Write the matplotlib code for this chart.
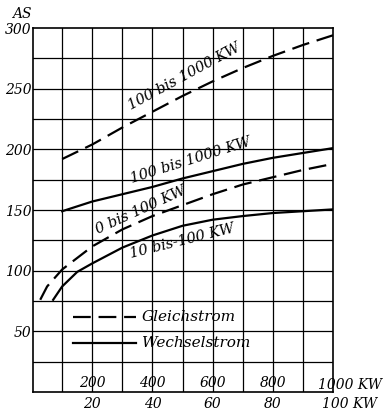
import matplotlib
matplotlib.use("Agg")
import matplotlib.pyplot as plt
import matplotlib.transforms as mtransforms

# Data (AS vs. KW)
# Gleichstrom, 100 bis 1000 KW (upper scale 0..1000 KW)
g_hi_x = [100, 200, 300, 400, 500, 600, 700, 800, 900, 1000]
g_hi_y = [192, 204, 218, 231, 244, 256, 267, 277, 286, 294]
# Wechselstrom, 100 bis 1000 KW (upper scale)
w_hi_x = [100, 200, 300, 400, 500, 600, 700, 800, 900, 1000]
w_hi_y = [149, 157, 163, 169, 176, 182, 188, 193, 197, 201]
# Gleichstrom, 0 bis 100 KW (lower scale 0..100 KW)
g_lo_x = [2.7, 5, 10, 20, 30, 40, 50, 60, 70, 80, 90, 100]
g_lo_y = [76, 87, 101, 120, 134, 145, 154, 163, 171, 177, 183, 188]
# Wechselstrom, 10 bis 100 KW (lower scale)
w_lo_x = [7, 10, 15, 20, 30, 40, 50, 60, 70, 80, 90, 100]
w_lo_y = [76, 87, 99, 106, 119, 129, 137, 142, 145, 147.5, 149, 150.5]

upper_ticks = [200, 400, 600, 800, 1000]
upper_labels = ["200", "400", "600", "800", "1000 KW"]
lower_ticks = [20, 40, 60, 80, 100]
lower_labels = ["20", "40", "60", "80", "100 KW"]
y_ticks = [50, 100, 150, 200, 250, 300]

FONT = dict(family="DejaVu Serif", style="italic")

fig = plt.figure(figsize=(3.9, 4.12), dpi=100)
ax = fig.add_axes([33/390, 1-392/412, 300/390, 364/412])
ax.set_xlim(3, 1000)
ax.set_ylim(0, 300)

# grid
for gx in range(100, 1000, 100):
    ax.axvline(gx, color="black", lw=0.9, zorder=1)
for gy in range(25, 300, 25):
    ax.axhline(gy, color="black", lw=0.9, zorder=1)
for s in ax.spines.values():
    s.set_linewidth(1.2)

ax.set_xticks([])
ax.set_yticks(y_ticks)
ax.set_yticklabels([str(v) for v in y_ticks], fontsize=10, **FONT)
ax.tick_params(axis="y", length=0, pad=1)

dash = (0, (8, 3.5))
ax.plot(g_hi_x, g_hi_y, color="black", lw=1.6, linestyle=dash, zorder=3)
ax.plot(w_hi_x, w_hi_y, color="black", lw=1.6, zorder=3)

ax2 = ax.twiny()
ax2.set_xlim(0.3, 100)
ax2.axis("off")
ax2.plot(g_lo_x, g_lo_y, color="black", lw=1.6, linestyle=dash, zorder=3)
ax2.plot(w_lo_x, w_lo_y, color="black", lw=1.6, zorder=3)

# x tick labels
trans_u = mtransforms.blended_transform_factory(ax.transData, ax.transAxes)
for xv, lab in zip(upper_ticks, upper_labels):
    if "KW" in lab:
        ax.text(xv - 50, -0.0, lab, transform=trans_u, ha="left", va="bottom",
                fontsize=10, clip_on=False, **FONT)
    else:
        ax.text(xv, 0.005, lab, transform=trans_u, ha="center", va="bottom",
                fontsize=10, **FONT)
trans_l = mtransforms.blended_transform_factory(ax2.transData, ax.transAxes)
for xv, lab in zip(lower_ticks, lower_labels):
    if "KW" in lab:
        ax.text(xv - 3.7, -0.014, lab, transform=trans_l, ha="left", va="top",
                fontsize=10, clip_on=False, **FONT)
    else:
        ax.text(xv, -0.014, lab, transform=trans_l, ha="center", va="top",
                fontsize=10, clip_on=False, **FONT)

# axis label
fig.text(12/390, 1-14/412, "AS", ha="left", va="center", fontsize=10, **FONT)

# curve labels
ax.text(505, 260, "100 bis 1000 KW", rotation=28.5, ha="center", va="center",
        fontsize=10.5, rotation_mode="anchor", **FONT)
ax.text(527, 191, "100 bis 1000 KW", rotation=17.5, ha="center", va="center",
        fontsize=10.5, rotation_mode="anchor", **FONT)
ax.text(362, 150, "0 bis 100 KW", rotation=24.5, ha="center", va="center",
        fontsize=10.5, rotation_mode="anchor", **FONT)
ax.text(500, 124, "10 bis-100 KW", rotation=14, ha="center", va="center",
        fontsize=10.5, rotation_mode="anchor", **FONT)

# legend
ax.plot([135, 345], [62, 62], color="black", lw=1.6, linestyle=dash, zorder=3)
ax.plot([135, 345], [40, 40], color="black", lw=1.6, zorder=3)
ax.text(365, 62, "Gleichstrom", ha="left", va="center", fontsize=11, **FONT)
ax.text(365, 40, "Wechselstrom", ha="left", va="center", fontsize=11, **FONT)

fig.savefig("out.png", dpi=100)
